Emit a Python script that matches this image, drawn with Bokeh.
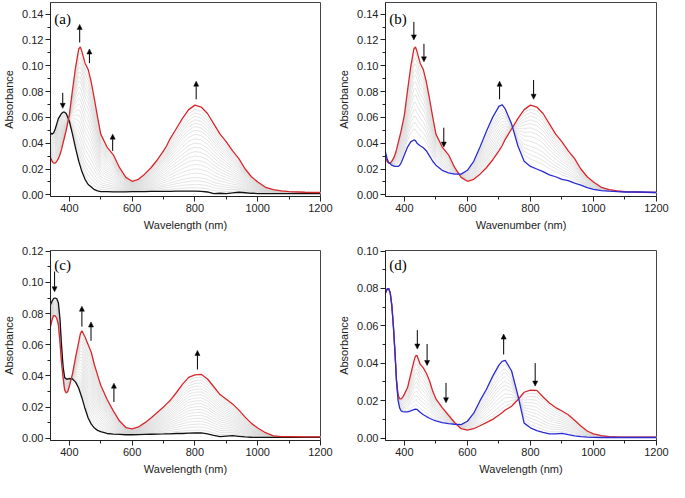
import numpy as np
from bokeh.plotting import figure
from bokeh.layouts import column, row
from bokeh.models import (Range1d, FixedTicker, Label, Arrow, NormalHead,
                          ColumnDataSource, NumeralTickFormatter)
from bokeh.embed import file_html
from bokeh.resources import INLINE

# ---------------- data ----------------
wl = [340, 345, 350, 355, 360, 365, 370, 375, 380, 385, 390, 395, 400,
      410, 420, 430, 435, 440, 450, 460, 470, 480, 490, 500,
      520, 540, 560, 580, 600, 620, 640, 660, 680, 700, 710,
      720, 740, 760, 780, 800, 820, 840, 860, 880, 900, 920, 940, 960, 980, 1000,
      1025, 1050, 1075, 1100, 1150, 1200]

a_black = [0.048, 0.047, 0.048, 0.051, 0.055, 0.059, 0.061, 0.063, 0.064, 0.064, 0.063, 0.060, 0.057,
           0.047, 0.036, 0.026, 0.022, 0.018, 0.012, 0.008, 0.006, 0.004, 0.003, 0.0025,
           0.0024, 0.0023, 0.0023, 0.0023, 0.0024, 0.0025, 0.0025, 0.0026, 0.0026, 0.0027, 0.0027,
           0.0027, 0.0028, 0.0028, 0.0028, 0.0028, 0.0027, 0.0022, 0.0010, 0.0012, 0.0010, 0.0015, 0.0020, 0.0016, 0.0012, 0.0010,
           0.0010, 0.0010, 0.0010, 0.0010, 0.0011, 0.0010]

ab_red = [0.029, 0.026, 0.0245, 0.0245, 0.026, 0.028, 0.031, 0.035, 0.040, 0.045, 0.050, 0.056, 0.062,
          0.081, 0.099, 0.113, 0.1145, 0.111, 0.102, 0.097, 0.087, 0.074, 0.060, 0.047,
          0.037, 0.031, 0.021, 0.0135, 0.0105, 0.012, 0.016, 0.021, 0.027, 0.034, 0.038,
          0.043, 0.051, 0.059, 0.066, 0.0695, 0.068, 0.063, 0.055, 0.047, 0.041, 0.034, 0.028, 0.020, 0.014, 0.010,
          0.0058, 0.004, 0.003, 0.0025, 0.002, 0.0018]

b_blue = [0.033, 0.028, 0.025, 0.024, 0.023, 0.0225, 0.022, 0.022, 0.022, 0.023, 0.025, 0.028, 0.031,
          0.037, 0.041, 0.0425, 0.042, 0.040, 0.038, 0.0365, 0.034, 0.030, 0.026, 0.023,
          0.019, 0.017, 0.016, 0.016, 0.019, 0.026, 0.037, 0.049, 0.060, 0.0685, 0.0698,
          0.0665, 0.055, 0.038, 0.026, 0.022, 0.020, 0.018, 0.0155, 0.014, 0.012, 0.011, 0.009, 0.0075, 0.0055, 0.0042,
          0.0032, 0.0028, 0.0025, 0.0022, 0.0022, 0.0018]

c_black = [0.0857, 0.088, 0.0897, 0.090, 0.0895, 0.087, 0.077, 0.060, 0.046, 0.039, 0.038, 0.038, 0.0383,
           0.038, 0.036, 0.032, 0.029, 0.026, 0.019, 0.013, 0.009, 0.0065, 0.005, 0.0042,
           0.003, 0.0026, 0.0024, 0.0022, 0.0022, 0.0023, 0.0024, 0.0025, 0.0026, 0.0027, 0.0028,
           0.0028, 0.003, 0.003, 0.0032, 0.0033, 0.0034, 0.0028, 0.0018, 0.0010, 0.0013, 0.0016, 0.0012, 0.0008, 0.0006, 0.0005,
           0.0005, 0.0005, 0.0005, 0.0005, 0.0005, 0.0005]

c_red = [0.0716, 0.076, 0.0787, 0.0785, 0.077, 0.073, 0.062, 0.049, 0.039, 0.031, 0.029, 0.030, 0.0333,
         0.0413, 0.052, 0.062, 0.067, 0.069, 0.065, 0.060, 0.055, 0.047, 0.0405, 0.034,
         0.025, 0.0175, 0.011, 0.0068, 0.006, 0.0072, 0.0098, 0.013, 0.0165, 0.020, 0.022,
         0.024, 0.029, 0.0345, 0.039, 0.0407, 0.041, 0.038, 0.033, 0.028, 0.025, 0.022, 0.018, 0.0135, 0.0095, 0.0065,
         0.0035, 0.0015, 0.001, 0.001, 0.0008, 0.0008]

d_red = [0.0776, 0.0796, 0.080, 0.0776, 0.071, 0.060, 0.046, 0.031, 0.023, 0.021, 0.021, 0.022, 0.0235,
         0.027, 0.034, 0.041, 0.0438, 0.0442, 0.0395, 0.0375, 0.0345, 0.0305, 0.025, 0.021,
         0.0163, 0.0122, 0.0082, 0.005, 0.0042, 0.005, 0.0066, 0.0083, 0.010, 0.0123, 0.0135,
         0.015, 0.017, 0.0205, 0.0245, 0.0256, 0.0255, 0.022, 0.0188, 0.0163, 0.0145, 0.0125, 0.0095, 0.0065, 0.0038, 0.0022,
         0.0013, 0.0008, 0.0006, 0.0005, 0.0005, 0.0005]

d_blue = [0.0776, 0.0796, 0.0800, 0.0776, 0.071, 0.060, 0.046, 0.030, 0.020, 0.016, 0.0145, 0.0142, 0.014,
          0.014, 0.0145, 0.0152, 0.0155, 0.0153, 0.0138, 0.0125, 0.0115, 0.0106, 0.0098, 0.0092,
          0.0083, 0.0077, 0.0074, 0.0072, 0.009, 0.0133, 0.020, 0.026, 0.033, 0.039, 0.041,
          0.0415, 0.036, 0.023, 0.008, 0.0055, 0.004, 0.003, 0.0022, 0.0022, 0.0025, 0.0018, 0.0012, 0.0008, 0.0005, 0.0004,
          0.0003, 0.0003, 0.0003, 0.0003, 0.0003, 0.0003]

# relative progress of the intermediate (grey) spectra between first and last
a_frac = [0.04, 0.08, 0.12, 0.16, 0.21, 0.26, 0.31, 0.36, 0.41, 0.46, 0.51,
          0.56, 0.61, 0.66, 0.71, 0.75, 0.79, 0.83, 0.87, 0.91, 0.95]
b_frac = [0.06, 0.12, 0.18, 0.24, 0.30, 0.37, 0.44, 0.51, 0.59, 0.67, 0.74, 0.81, 0.88]
c_frac = [0.05, 0.10, 0.15, 0.20, 0.25, 0.30, 0.35, 0.40, 0.45, 0.50,
          0.55, 0.60, 0.65, 0.70, 0.75, 0.80, 0.85, 0.90, 0.95]
d_frac = [0.08, 0.16, 0.25, 0.33, 0.42, 0.50, 0.58, 0.67, 0.75, 0.83, 0.92]

# arrows: x position, start y, end y
a_arr_x = [379, 433, 464, 538, 804]
a_arr_y0 = [0.079, 0.118, 0.102, 0.034, 0.074]
a_arr_y1 = [0.067, 0.132, 0.113, 0.047, 0.088]
b_arr_x = [430, 462, 525, 702, 810]
b_arr_y0 = [0.134, 0.117, 0.052, 0.074, 0.089]
b_arr_y1 = [0.120, 0.103, 0.037, 0.088, 0.074]
c_arr_x = [353, 440, 469, 542, 808]
c_arr_y0 = [0.107, 0.0716, 0.0625, 0.0232, 0.0441]
c_arr_y1 = [0.094, 0.0847, 0.0746, 0.0353, 0.0563]
d_arr_x = [441, 472, 532, 715, 815]
d_arr_y0 = [0.0577, 0.0503, 0.0295, 0.0447, 0.0401]
d_arr_y1 = [0.0476, 0.0388, 0.0189, 0.0556, 0.0278]

RED = "#d8262b"
BLUE = "#2b2bd6"
BLACK = "#111111"
GREY = "#d4d4d4"
FONT = "Liberation Sans"


def make_panel(width, height, ylim, ymax_tick, xlabel, tag, tag_y, borders,
               start, end, frac, start_col, end_col, ax, ay0, ay1):
    bl, br, bt, bb = borders
    p = figure(width=width, height=height, output_backend="svg", toolbar_location=None,
               x_range=Range1d(340, 1200), y_range=Range1d(*ylim),
               min_border_left=bl, min_border_right=br, min_border_top=bt, min_border_bottom=bb)
    p.xgrid.visible = False
    p.ygrid.visible = False
    p.outline_line_color = "#444444"
    p.outline_line_width = 1
    p.background_fill_color = "white"
    p.border_fill_color = "white"

    s = np.array(start)
    e = np.array(end)
    xs = [wl for _ in frac]
    ys = [list(s + f * (e - s)) for f in frac]
    p.multi_line(xs, ys, line_color=GREY, line_width=0.6)
    p.line(wl, start, line_color=start_col, line_width=1.3)
    p.line(wl, end, line_color=end_col, line_width=1.3)

    src = ColumnDataSource(dict(x=ax, y0=ay0, y1=ay1))
    p.add_layout(Arrow(end=NormalHead(size=5, fill_color="black", line_color="black", line_width=0.5),
                       source=src, x_start="x", y_start="y0", x_end="x", y_end="y1",
                       line_color="black", line_width=1))

    p.add_layout(Label(x=352, y=tag_y, text=tag, text_font="Liberation Serif",
                       text_font_size="15px", text_baseline="middle", text_color="black"))

    yt = [round(0.02 * i, 2) for i in range(int(round(ymax_tick / 0.02)) + 1)]
    ym = [round(0.01 + 0.02 * i, 3) for i in range(int(round(ymax_tick / 0.02)))]
    p.yaxis.ticker = FixedTicker(ticks=yt, minor_ticks=ym)
    p.yaxis.formatter = NumeralTickFormatter(format="0.00")
    p.xaxis.ticker = FixedTicker(ticks=[400, 600, 800, 1000, 1200], minor_ticks=[500, 700, 900, 1100])

    for axis in (p.xaxis, p.yaxis):
        axis.major_tick_in = 0
        axis.major_tick_out = 5
        axis.minor_tick_in = 0
        axis.minor_tick_out = 3
        axis.axis_line_color = "#222222"
        axis.major_tick_line_color = "#222222"
        axis.minor_tick_line_color = "#222222"
        axis.major_label_text_font = FONT
        axis.major_label_text_font_size = "11px"
        axis.major_label_text_color = "#222222"
        axis.axis_label_text_font = FONT
        axis.axis_label_text_font_size = "11px"
        axis.axis_label_text_font_style = "normal"
        axis.axis_label_text_color = "#222222"
        axis.major_label_standoff = 2
        axis.axis_label_standoff = 4
    p.xaxis.axis_label = xlabel
    p.yaxis.axis_label = "Absorbance"
    return p


pa = make_panel(334, 238, (-0.0013, 0.149), 0.14, "Wavelength (nm)", "(a)", 0.1365,
                (44, 14, 2, 42), a_black, ab_red, a_frac, BLACK, RED, a_arr_x, a_arr_y0, a_arr_y1)
pb = make_panel(335, 238, (-0.0013, 0.149), 0.14, "Wavenumber (nm)", "(b)", 0.1365,
                (51, 13, 2, 42), ab_red, b_blue, b_frac, RED, BLUE, b_arr_x, b_arr_y0, b_arr_y1)
pc = make_panel(334, 244, (-0.0015, 0.1205), 0.12, "Wavelength (nm)", "(c)", 0.1115,
                (46, 14, 12, 42), c_black, c_red, c_frac, BLACK, RED, c_arr_x, c_arr_y0, c_arr_y1)
pd = make_panel(335, 244, (-0.0013, 0.1003), 0.10, "Wavelength (nm)", "(d)", 0.0927,
                (51, 13, 12, 42), d_red, d_blue, d_frac, RED, BLUE, d_arr_x, d_arr_y0, d_arr_y1)

layout = column(row(pa, pb), row(pc, pd))
open("out.html", "w").write(file_html(layout, INLINE))
